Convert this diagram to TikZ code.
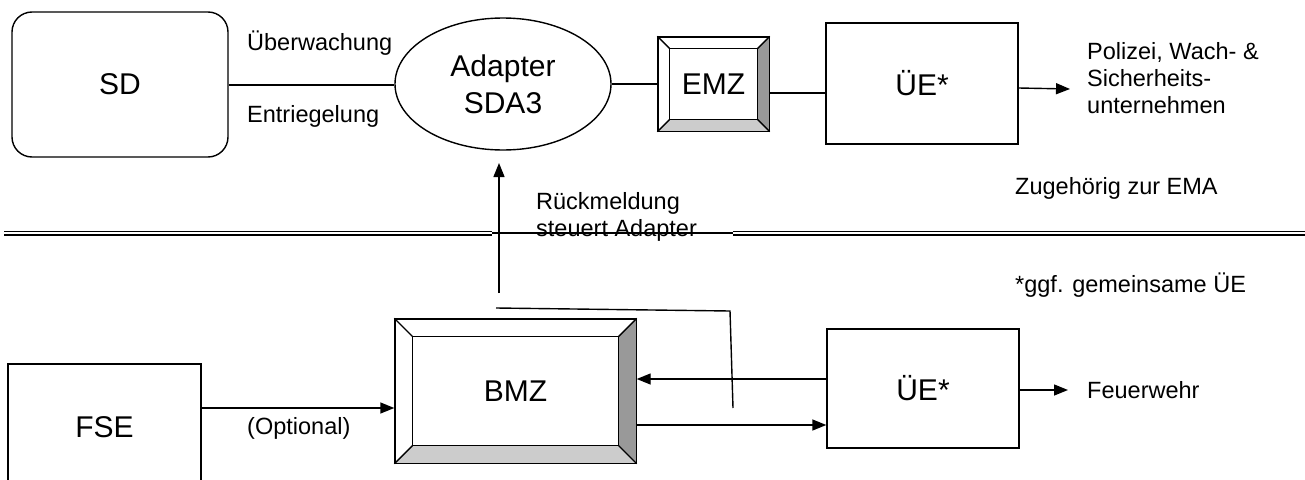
\documentclass[tikz,border=0pt]{standalone}
\usepackage{fontspec}
\setmainfont{Liberation Sans}
\usetikzlibrary{shapes.geometric,arrows.meta}
\newcommand\bevelframe[2]{%
  \fill[black!40] (#1.north east) -- (#1.south east) -- ([xshift=-#2pt,yshift=#2pt]#1.south east) -- ([xshift=-#2pt,yshift=-#2pt]#1.north east) -- cycle;
  \fill[black!20] (#1.south west) -- (#1.south east) -- ([xshift=-#2pt,yshift=#2pt]#1.south east) -- ([xshift=#2pt,yshift=#2pt]#1.south west) -- cycle;
  \draw[ln] ([xshift=#2pt,yshift=-#2pt]#1.north west) rectangle ([xshift=-#2pt,yshift=#2pt]#1.south east);
  \draw[ln] (#1.north west) -- ([xshift=#2pt,yshift=-#2pt]#1.north west);
  \draw[ln] (#1.north east) -- ([xshift=-#2pt,yshift=-#2pt]#1.north east);
  \draw[ln] (#1.south west) -- ([xshift=#2pt,yshift=#2pt]#1.south west);
  \draw[ln] (#1.south east) -- ([xshift=-#2pt,yshift=#2pt]#1.south east);
  \draw[ln] (#1.north west) rectangle (#1.south east);
}
\begin{document}
\begin{tikzpicture}[x=1pt,y=-1pt,
  ln/.style={line width=1.4pt},
  arr/.style={ln,-{Triangle[length=14pt,width=11pt]}},
  big/.style={font=\fontsize{30}{34}\selectfont},
  small/.style={font=\fontsize{23.5}{27}\selectfont},
  box/.style={draw,ln,rectangle,inner sep=0pt,big},
  lbl/.style={small,inner sep=0pt,anchor=west,align=left}]
\clip (0,0) rectangle (1305,479);
\fill[white] (0,0) rectangle (1305,479);

% top row
\node[box,rounded corners=20pt,minimum width=216pt,minimum height=145pt] (sd) at (120,84.5) {SD};
\node[draw,ln,ellipse,inner sep=0pt,minimum width=216pt,minimum height=132pt,big,align=center] (ad) at (503,84) {Adapter\\[3pt]SDA3};
\node[box,minimum width=111pt,minimum height=94pt] (emz) at (713.5,84) {};
\bevelframe{emz}{12}
\node[big] at (emz) {EMZ};
\node[box,minimum width=192pt,minimum height=121pt] (ue1) at (922,83.5) {ÜE*};

\draw[ln] (sd.east |- 0,85) -- (ad.west |- 0,85);
\draw[ln] (ad.east) -- (emz.west);
\draw[ln] (emz.east |- 0,93) -- (ue1.west |- 0,93);
\coordinate (pol) at (1070,89);
\draw[arr] (ue1.east |- 0,88) -- (pol);

\node[lbl] (ueb) at (247,43) {Überwachung};
\node[lbl] (ent) at (247,116) {Entriegelung};
\node[lbl] (polt) at (1087,78) {Polizei, Wach- \&\\Sicherheits-\\unternehmen};
\node[lbl] (zug) at (1015,188) {Zugehörig zur EMA};
\node[lbl] (ggf) at (1015,285) {*ggf. gemeinsame ÜE};

% separator
\draw[line width=1.3pt,double,double distance=2.4pt] (4,233) -- (492,233);
\draw[line width=1.3pt,double,double distance=2.4pt] (733,233) -- (1305,233);
\draw[ln] (492,233) -- (733,233);
\node[lbl] (rm) at (536,217) {Rückmeldung\\steuert Adapter};

% bottom row
\node[box,minimum width=193pt,minimum height=126pt] (fse) at (104.5,427) {FSE};
\node[box,minimum width=241pt,minimum height=144pt] (bmz) at (515.5,391) {};
\bevelframe{bmz}{18}
\node[big] at (bmz) {BMZ};
\node[box,minimum width=192pt,minimum height=119pt] (ue2) at (923,388.5) {ÜE*};

\draw[arr] (fse.east |- 0,408) -- (bmz.west |- 0,408);
\node[lbl] (opt) at (247,428) {(Optional)};
\draw[arr] (ue2.west |- 0,379) -- (bmz.east |- 0,379);
\draw[arr] (bmz.east |- 0,425) -- (ue2.west |- 0,425);
\coordinate (fw) at (1068,390);
\draw[arr] (ue2.east |- 0,390) -- (fw);
\node[lbl] (fwt) at (1087,390) {Feuerwehr};

% feedback
\coordinate (up0) at (499,293);
\coordinate (up1) at (499,163);
\draw[arr] (up0) -- (up1);
\coordinate (f0) at (496,308);
\coordinate (f1) at (730,311);
\coordinate (f2) at (733,408);
\draw[ln] (f0) -- (f1) -- (f2);
\end{tikzpicture}
\end{document}
